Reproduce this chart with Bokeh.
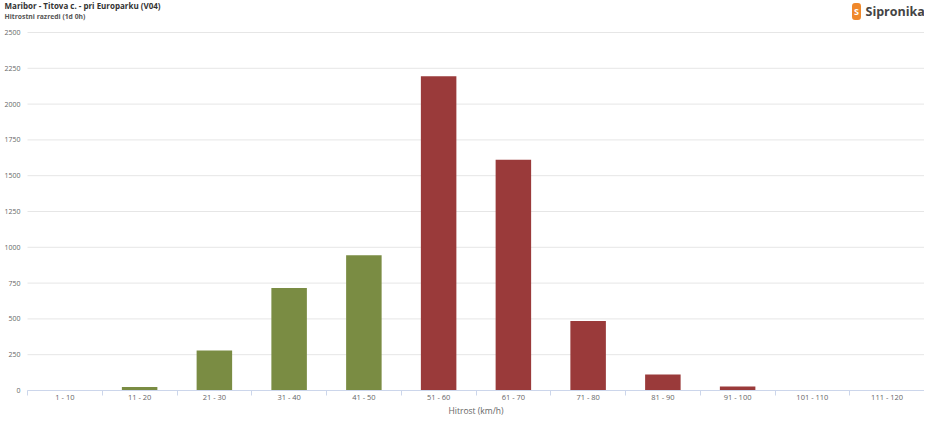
from bokeh.plotting import figure
from bokeh.models import Range1d, FixedTicker, Label, LinearAxis
from bokeh.embed import file_html
from bokeh.resources import INLINE

# ---- data ----
categories = ["1 - 10", "11 - 20", "21 - 30", "31 - 40", "41 - 50", "51 - 60",
              "61 - 70", "71 - 80", "81 - 90", "91 - 100", "101 - 110", "111 - 120"]
counts = [0, 25, 280, 715, 945, 2195, 1612, 485, 112, 28, 0, 0]
y_ticks = [0, 250, 500, 750, 1000, 1250, 1500, 1750, 2000, 2250, 2500]
title_text = "Maribor - Titova c. - pri Europarku (V04)"
subtitle_text = "Hitrostni razredi (1d 0h)"
x_label = "Hitrost (km/h)"

GREEN = "#7a8c43"
RED = "#9a3a3a"
bar_colors = [GREEN] * 5 + [RED] * 7

FONT = "Open Sans"

n = len(categories)
centers = [i + 0.5 for i in range(n)]
bounds = [float(i) for i in range(n + 1)]

# ---- layout (pixels) ----
W, H = 924, 416
PL, PR = 27, W            # plot-area left / right (canvas px)
PT, PB = 32, 390          # canvas y of the top tick (2500) and of 0
cat_w = (PR - PL) / n
x_start = -PL / cat_w
ppu = (PB - PT) / y_ticks[-1]
y_top = y_ticks[-1] + PT / ppu
y_bot = -(H - PB) / ppu

p = figure(width=W, height=H, output_backend="svg", toolbar_location=None,
           x_range=Range1d(x_start, n), y_range=Range1d(y_bot, y_top),
           x_axis_location=None, y_axis_location=None,
           min_border_left=0, min_border_right=0, min_border_top=0, min_border_bottom=0)
p.outline_line_color = None
p.background_fill_color = "white"
p.border_fill_color = "white"
p.grid.visible = False

# horizontal grid lines over the plot area
p.segment(x0=[0] * len(y_ticks), x1=[n] * len(y_ticks), y0=y_ticks, y1=y_ticks,
          line_color="#e6e6e6", line_width=1)

p.vbar(x=centers, top=counts, bottom=0, width=0.475, fill_color=bar_colors, line_color=None)

# x axis (fixed at y = 0)
xa = LinearAxis(fixed_location=0, bounds=(0, n))
xa.ticker = FixedTicker(ticks=centers, minor_ticks=bounds)
xa.major_label_overrides = {c: lab for c, lab in zip(centers, categories)}
xa.major_tick_line_color = None
xa.major_tick_out = 0
xa.major_tick_in = 0
xa.minor_tick_line_color = "#ccd6eb"
xa.minor_tick_out = 5
xa.minor_tick_in = 0
xa.axis_line_color = "#ccd6eb"
xa.major_label_text_font = FONT
xa.major_label_text_font_size = "7.5px"
xa.major_label_text_color = "#666666"
xa.major_label_standoff = -4
xa.axis_label = x_label
xa.axis_label_text_font = FONT
xa.axis_label_text_font_size = "8.5px"
xa.axis_label_text_font_style = "normal"
xa.axis_label_text_color = "#666666"
xa.axis_label_standoff = 0
p.add_layout(xa, "below")

# y axis (fixed at x = 0)
ya = LinearAxis(fixed_location=0, bounds=(0, y_ticks[-1]))
ya.ticker = FixedTicker(ticks=y_ticks)
ya.axis_line_color = None
ya.major_tick_line_color = None
ya.major_tick_out = 0
ya.major_tick_in = 0
ya.minor_tick_line_color = None
ya.major_label_text_font = FONT
ya.major_label_text_font_size = "7px"
ya.major_label_text_color = "#666666"
ya.major_label_standoff = 7
p.add_layout(ya, "left")

# header texts (screen units: x from frame left, y up from frame bottom)
p.add_layout(Label(x=4, y=H - 5, x_units="screen", y_units="screen", text=title_text,
                   text_font=FONT, text_font_size="8px", text_font_style="bold",
                   text_color="#333333", text_baseline="middle", text_align="left"))
p.add_layout(Label(x=4, y=H - 15.5, x_units="screen", y_units="screen", text=subtitle_text,
                   text_font=FONT, text_font_size="6.8px", text_font_style="bold",
                   text_color="#555555", text_baseline="middle", text_align="left"))
p.add_layout(Label(x=856, y=H - 11, x_units="screen", y_units="screen", text="S",
                   text_font=FONT, text_font_size="9px", text_font_style="bold",
                   text_color="white", text_baseline="middle", text_align="center",
                   background_fill_color="#f0882a", border_radius=3, padding=2))
p.add_layout(Label(x=865, y=H - 11, x_units="screen", y_units="screen", text="Sipronika",
                   text_font=FONT, text_font_size="12.5px", text_font_style="bold",
                   text_color="#444444", text_baseline="middle", text_align="left"))

open("out.html", "w").write(file_html(p, INLINE))
